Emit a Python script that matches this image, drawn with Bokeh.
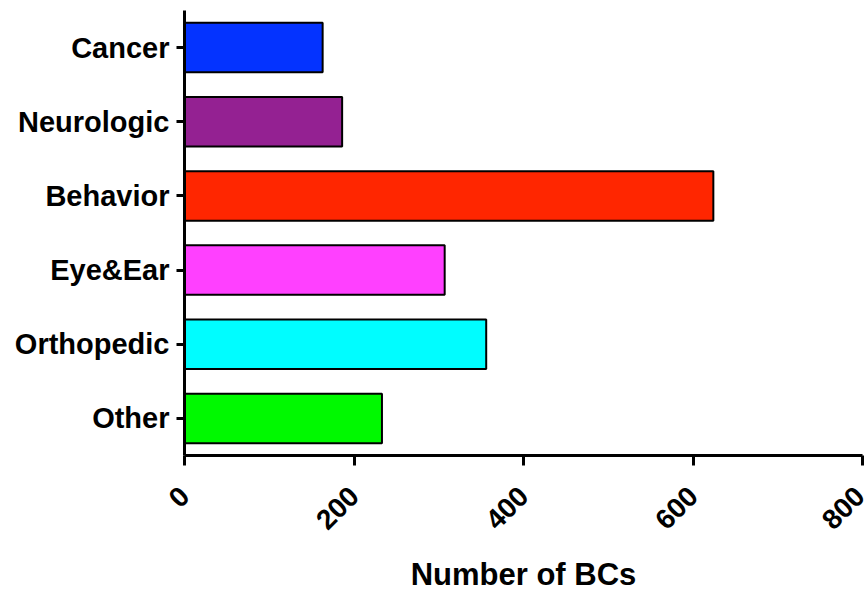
from bokeh.plotting import figure
from bokeh.models import ColumnDataSource, FactorRange, Range1d, FixedTicker
from bokeh.embed import file_html
from bokeh.resources import INLINE
import math

categories = ["Cancer", "Neurologic", "Behavior", "Eye&Ear", "Orthopedic", "Other"]
counts = [163, 186, 624, 307, 356, 233]
colors = ["#0433FF", "#942192", "#FF2600", "#FF40FF", "#00FDFF", "#00F900"]
x_ticks = [0, 200, 400, 600, 800]

source = ColumnDataSource(dict(cat=categories, n=counts, color=colors))

p = figure(width=866, height=594, output_backend="svg", toolbar_location=None,
           y_range=FactorRange(factors=list(reversed(categories)), range_padding=0),
           x_range=Range1d(0, 800),
           min_border_left=184, min_border_right=4, min_border_top=10, min_border_bottom=133)

p.hbar(y="cat", right="n", left=0, height=0.667, source=source,
       fill_color="color", line_color="black", line_width=2)

p.outline_line_color = None
p.xgrid.visible = False
p.ygrid.visible = False
p.background_fill_color = "white"
p.border_fill_color = "white"

font = "Liberation Sans"
for ax in (p.xaxis[0], p.yaxis[0]):
    ax.axis_line_width = 3
    ax.axis_line_color = "black"
    ax.major_tick_line_width = 3
    ax.major_tick_line_color = "black"
    ax.minor_tick_line_color = None
    ax.major_tick_in = 0
    ax.major_label_text_font = font
    ax.major_label_text_font_style = "bold"
    ax.major_label_text_color = "black"

p.yaxis.major_tick_out = 8
p.yaxis.major_label_text_font_size = "29px"
p.yaxis.major_label_standoff = 7

p.xaxis.ticker = FixedTicker(ticks=x_ticks)
p.xaxis.major_tick_out = 10
p.xaxis.major_label_text_font_size = "28px"
p.xaxis.major_label_orientation = math.pi / 4
p.xaxis.major_label_standoff = 26
p.xaxis.axis_label = "Number of BCs"
p.xaxis.axis_label_text_font = font
p.xaxis.axis_label_text_font_style = "bold"
p.xaxis.axis_label_text_font_size = "31px"
p.xaxis.axis_label_text_color = "black"
p.xaxis.axis_label_standoff = 16

open("out.html", "w").write(file_html(p, INLINE))
